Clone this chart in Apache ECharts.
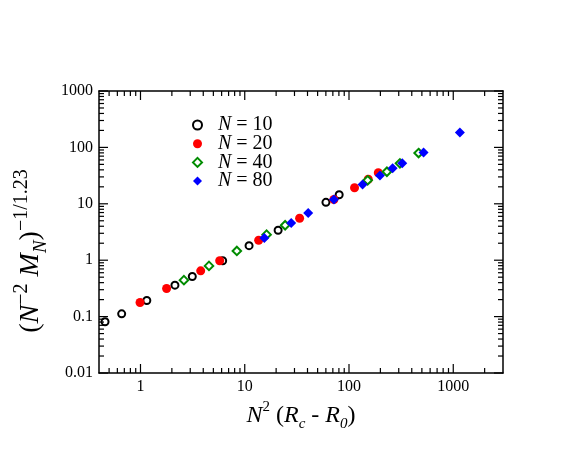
<!DOCTYPE html>
<html>
<head>
<meta charset="utf-8">
<script src="https://cdn.jsdelivr.net/npm/echarts@6/dist/echarts.min.js"></script>
<style>
  html, body { margin: 0; padding: 0; background: #fff; }
  #main { width: 581px; height: 449px; }
</style>
</head>
<body>
<div id="main"></div>
<script>
// values
const n10x = [0.457, 0.66, 1.15, 2.14, 3.14, 6.14, 11.0, 20.9, 60.1, 80.5]
const n10y = [0.081, 0.112, 0.193, 0.361, 0.513, 0.98, 1.81, 3.40, 10.6, 14.5]
const n20x = [0.99, 1.78, 3.78, 5.75, 13.6, 33.6, 71.6, 113, 153, 191]
const n20y = [0.178, 0.315, 0.647, 0.98, 2.26, 5.54, 11.9, 19.3, 27.2, 35.5]
const n40x = [2.61, 4.54, 8.4, 16.2, 24.4, 151, 231, 308, 465]
const n40y = [0.443, 0.793, 1.46, 2.84, 4.16, 26.1, 37.0, 52.1, 79.3]
const n80x = [15.4, 27.9, 40.6, 71.7, 135, 198, 262, 324, 519, 1157]
const n80y = [2.48, 4.57, 6.87, 11.9, 22.1, 31.9, 42.5, 52.1, 81.5, 184]
const seriesNames = ['10', '20', '40', '80']

const xMin = 0.4, xMax = 3000
const yMin = 0.01, yMax = 1000
const xMajor = [1, 10, 100, 1000]
const yMajor = [0.01, 0.1, 1, 10, 100, 1000]
const xDecades = [0.1, 1, 10, 100, 1000]
const yDecades = [0.01, 0.1, 1, 10, 100]

const zip = (xs, ys) => xs.map((x, i) => [x, ys[i]])

// minor tick values at 2..9 times each decade
function minorValues(decades, lo, hi) {
  const out = []
  decades.forEach(d => {
    for (let k = 2; k <= 9; k++) {
      const v = d * k
      if (v > lo && v < hi) out.push(v)
    }
  })
  return out
}
const xMinor = minorValues(xDecades, xMin, xMax)
const yMinor = minorValues(yDecades, yMin, yMax)

const chart = echarts.init(document.getElementById('main'))

const font = 'Liberation Serif'
const xRich = {
  i: { fontFamily: font, fontStyle: 'italic', fontSize: 24, color: '#000', lineHeight: 32 },
  t: { fontFamily: font, fontSize: 24, color: '#000', lineHeight: 32 },
  sup: { fontFamily: font, fontSize: 15, color: '#000', verticalAlign: 'top', lineHeight: 32 },
  sub: { fontFamily: font, fontStyle: 'italic', fontSize: 15, color: '#000', verticalAlign: 'bottom', lineHeight: 32 }
}
const yRich = {
  i: { fontFamily: font, fontStyle: 'italic', fontSize: 28, color: '#000', lineHeight: 38 },
  t: { fontFamily: font, fontSize: 28, color: '#000', lineHeight: 38 },
  sup: { fontFamily: font, fontSize: 20, color: '#000', verticalAlign: 'top', lineHeight: 38 },
  sub: { fontFamily: font, fontStyle: 'italic', fontSize: 19, color: '#000', verticalAlign: 'bottom', lineHeight: 38 }
}

function logAxis(pos, showLabels, lo, hi) {
  return {
    type: 'log',
    position: pos,
    min: lo, max: hi,
    axisLine: { show: true, onZero: false, lineStyle: { color: '#000', width: 1.5 } },
    axisTick: { show: false },
    splitLine: { show: false },
    axisLabel: {
      show: showLabels, fontFamily: font, fontSize: 16, color: '#000', margin: 6,
      formatter: v => String(+Number(v).toPrecision(6))
    }
  }
}

const xb = Object.assign(logAxis('bottom', true, xMin, xMax), {
  name: '{i|N}{sup|2}{t| (}{i|R}{sub|c}{t| - }{i|R}{sub|0}{t|)}',
  nameLocation: 'middle', nameGap: 24,
  nameTextStyle: { rich: xRich }
})
xb.axisLabel.showMinLabel = false
xb.axisLabel.showMaxLabel = false
const xt = logAxis('top', false, xMin, xMax)
const yl = Object.assign(logAxis('left', true, yMin, yMax), {
  name: '{t|(}{i|N}{sup|−2}{t| }{i|M}{sub|N}{t|)}{sup|−1/1.23}',
  nameLocation: 'middle', nameGap: 18, nameRotate: 90,
  nameTextStyle: { rich: yRich, padding: [0, 38, 0, 0] }
})
const yr = logAxis('right', false, yMin, yMax)

const styles = [
  { symbol: 'circle', symbolSize: 7, itemStyle: { color: '#fff', borderColor: '#000', borderWidth: 2, opacity: 1 } },
  { symbol: 'circle', symbolSize: 9, itemStyle: { color: '#ff0000', opacity: 1 } },
  { symbol: 'diamond', symbolSize: 8.5, itemStyle: { color: '#fff', borderColor: '#008c00', borderWidth: 2, opacity: 1 } },
  { symbol: 'diamond', symbolSize: 10, itemStyle: { color: '#0000ff', opacity: 1 } }
]
const datas = [zip(n10x, n10y), zip(n20x, n20y), zip(n40x, n40y), zip(n80x, n80y)]

// inside tick marks drawn as thin rect symbols placed by the log scales
function tickSeries(points, size, offset) {
  return {
    type: 'scatter',
    name: 'tick',
    xAxisIndex: 0, yAxisIndex: 0,
    silent: true, clip: false, z: 5,
    symbol: 'rect', symbolSize: size, symbolOffset: offset,
    itemStyle: { color: '#000', opacity: 1 },
    data: points
  }
}
const tickSpecs = [
  [xMajor.map(v => [v, yMin]), [1.2, 9], [0, -4.5]],
  [xMajor.map(v => [v, yMax]), [1.2, 9], [0, 4.5]],
  [xMinor.map(v => [v, yMin]), [1.2, 5], [0, -2.5]],
  [xMinor.map(v => [v, yMax]), [1.2, 5], [0, 2.5]],
  [yMajor.map(v => [xMin, v]), [9, 1.2], [4.5, 0]],
  [yMajor.map(v => [xMax, v]), [9, 1.2], [-4.5, 0]],
  [yMinor.map(v => [xMin, v]), [5, 1.2], [2.5, 0]],
  [yMinor.map(v => [xMax, v]), [5, 1.2], [-2.5, 0]]
]

const option = {
  backgroundColor: '#fff',
  animation: false,
  grid: { left: 99, right: 78, top: 91, bottom: 76 },
  legend: {
    orient: 'vertical', left: 192, top: 115, padding: 0,
    itemWidth: 9, itemHeight: 9, itemGap: -1.3,
    data: seriesNames.map(n => 'N = ' + n),
    formatter: name => '{i|N}{t|' + name.slice(1) + '}',
    textStyle: {
      rich: {
        i: { fontFamily: font, fontStyle: 'italic', fontSize: 20, color: '#000', padding: [0, 0, 0, 11] },
        t: { fontFamily: font, fontSize: 20, color: '#000' }
      }
    }
  },
  xAxis: [xb, xt],
  yAxis: [yl, yr],
  series: datas.map((d, k) => Object.assign({
    type: 'scatter',
    name: 'N = ' + seriesNames[k],
    xAxisIndex: 0, yAxisIndex: 0,
    z: 3,
    data: d
  }, styles[k])).concat(tickSpecs.map(s => tickSeries(s[0], s[1], s[2])))
}
option && chart.setOption(option)
</script>
</body>
</html>
